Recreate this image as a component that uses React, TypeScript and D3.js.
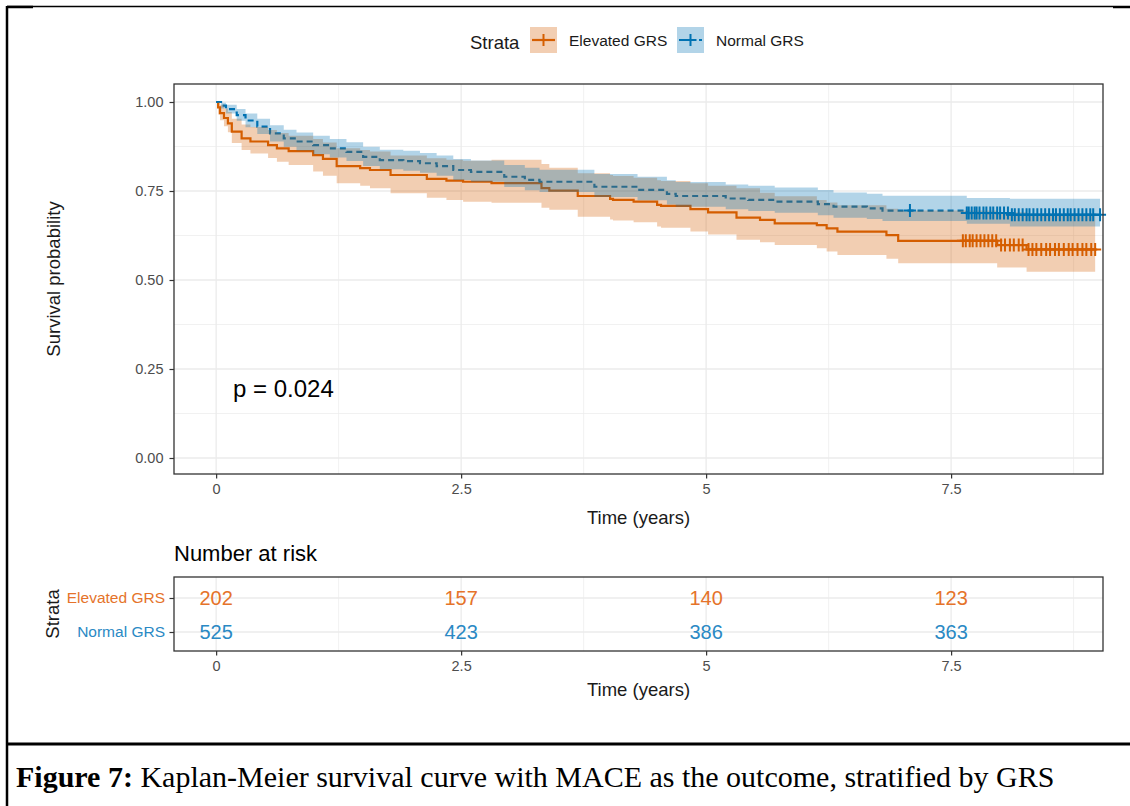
import { useEffect, useRef } from "react";
import * as d3 from "d3";

// Elevated GRS: KM steps + 95% CI
const elevTime = [0, 0.02, 0.04, 0.08, 0.12, 0.16, 0.26, 0.35, 0.53, 0.62, 0.74, 0.99, 1.09, 1.23, 1.47, 1.57, 1.78, 2.15, 2.35, 2.52, 2.81, 3.32, 3.4, 3.69, 4.02, 4.05, 4.26, 4.5, 4.54, 4.84, 5.02, 5.31, 5.55, 5.7, 6.13, 6.23, 6.34, 6.84, 6.96, 7.97, 8.27];
const elevSurv = [1, 0.985, 0.969, 0.955, 0.94, 0.917, 0.898, 0.889, 0.879, 0.87, 0.862, 0.851, 0.84, 0.82, 0.814, 0.809, 0.795, 0.784, 0.779, 0.776, 0.772, 0.758, 0.751, 0.736, 0.728, 0.725, 0.72, 0.711, 0.708, 0.699, 0.69, 0.675, 0.669, 0.659, 0.654, 0.645, 0.636, 0.626, 0.61, 0.598, 0.586];
const elevLower = [1, 0.965, 0.949, 0.932, 0.915, 0.885, 0.865, 0.855, 0.843, 0.832, 0.823, 0.805, 0.793, 0.772, 0.765, 0.758, 0.744, 0.731, 0.725, 0.72, 0.717, 0.703, 0.697, 0.678, 0.67, 0.667, 0.662, 0.65, 0.647, 0.636, 0.628, 0.613, 0.606, 0.598, 0.589, 0.58, 0.57, 0.56, 0.547, 0.535, 0.523];
const elevUpper = [1, 1, 0.992, 0.982, 0.972, 0.953, 0.937, 0.93, 0.921, 0.913, 0.905, 0.896, 0.886, 0.87, 0.865, 0.861, 0.85, 0.842, 0.838, 0.835, 0.838, 0.826, 0.815, 0.8, 0.795, 0.792, 0.787, 0.78, 0.778, 0.772, 0.765, 0.758, 0.745, 0.735, 0.725, 0.718, 0.71, 0.7, 0.695, 0.69, 0.686];
const elevEnd = 8.97;
const elevCensor = [7.62, 7.65, 7.69, 7.72, 7.76, 7.8, 7.84, 7.88, 7.92, 7.96, 8.01, 8.05, 8.1, 8.14, 8.19, 8.23, 8.29, 8.33, 8.37, 8.42, 8.47, 8.51, 8.56, 8.6, 8.65, 8.7, 8.74, 8.79, 8.84, 8.88, 8.93, 8.97];

// Normal GRS
const normTime = [0, 0.05, 0.1, 0.21, 0.3, 0.42, 0.55, 0.69, 0.82, 0.99, 1.16, 1.33, 1.5, 1.67, 1.91, 2.08, 2.25, 2.42, 2.6, 2.94, 3.15, 3.3, 3.86, 4.3, 4.6, 4.69, 5.2, 5.43, 5.7, 6.14, 6.3, 6.64, 6.8, 7.66, 8.1];
const normSurv = [1, 0.99, 0.98, 0.963, 0.948, 0.931, 0.912, 0.898, 0.889, 0.879, 0.87, 0.86, 0.846, 0.837, 0.834, 0.828, 0.82, 0.809, 0.804, 0.79, 0.781, 0.776, 0.762, 0.753, 0.742, 0.736, 0.729, 0.725, 0.72, 0.713, 0.706, 0.701, 0.695, 0.688, 0.683];
const normLower = [1, 0.982, 0.968, 0.947, 0.929, 0.91, 0.889, 0.874, 0.864, 0.853, 0.844, 0.834, 0.82, 0.811, 0.807, 0.801, 0.793, 0.781, 0.776, 0.761, 0.752, 0.747, 0.733, 0.724, 0.712, 0.706, 0.699, 0.694, 0.689, 0.682, 0.675, 0.671, 0.666, 0.658, 0.65];
const normUpper = [1, 0.998, 0.992, 0.98, 0.968, 0.953, 0.935, 0.922, 0.914, 0.905, 0.896, 0.887, 0.874, 0.866, 0.863, 0.857, 0.85, 0.84, 0.836, 0.823, 0.815, 0.81, 0.798, 0.79, 0.78, 0.775, 0.768, 0.765, 0.76, 0.753, 0.746, 0.742, 0.737, 0.73, 0.728];
const normEnd = 9.02;
const normCensor = [7.08, 7.66, 7.68, 7.71, 7.74, 7.76, 7.79, 7.83, 7.86, 7.9, 7.93, 7.97, 8.0, 8.04, 8.08, 8.12, 8.15, 8.19, 8.23, 8.27, 8.3, 8.34, 8.38, 8.42, 8.46, 8.5, 8.54, 8.57, 8.61, 8.65, 8.69, 8.72, 8.76, 8.8, 8.84, 8.88, 8.92, 8.95, 9.02];

// risk table
const riskTimes = [0, 2.5, 5, 7.5];
const elevRisk = [202, 157, 140, 123];
const normRisk = [525, 423, 386, 363];
const strataNames = ["Elevated GRS", "Normal GRS"];

const xTicks = [0, 2.5, 5, 7.5];
const xMinor = [1.25, 3.75, 6.25, 8.75];
const yTicks = [0, 0.25, 0.5, 0.75, 1];
const yMinor = [0.125, 0.375, 0.625, 0.875];

const ORANGE = "#D55E00";
const BLUE = "#0072B2";
const ORANGE_TXT = "#E5732A";
const BLUE_TXT = "#2A89C4";
const FONT = "Liberation Sans, Arial, sans-serif";

const App = () => {
  const svgRef = useRef(null);

  useEffect(() => {
    const svg = d3.select(svgRef.current);
    svg.selectAll("*").remove();

    const left = 174;
    const right = 1103;
    const x = d3.scaleLinear().domain([-0.43, 9.05]).range([left, right]);
    const y = d3.scaleLinear().domain([0, 1]).range([458, 102]);
    const pTop = 84;
    const pBot = 474;

    // frame of the document page
    svg.append("line").attr("x1", 7).attr("x2", 1113).attr("y1", 6.5).attr("y2", 6.5).attr("stroke", "#000").attr("stroke-width", 1.5);
    svg.append("line").attr("x1", 7).attr("x2", 33).attr("y1", 7).attr("y2", 7).attr("stroke", "#000").attr("stroke-width", 2.5);
    svg.append("line").attr("x1", 1113).attr("x2", 1130).attr("y1", 7).attr("y2", 7).attr("stroke", "#000").attr("stroke-width", 2.5);
    svg.append("line").attr("x1", 7).attr("x2", 7).attr("y1", 6).attr("y2", 806).attr("stroke", "#000").attr("stroke-width", 2.5);
    svg.append("line").attr("x1", 7).attr("x2", 1130).attr("y1", 744).attr("y2", 744).attr("stroke", "#000").attr("stroke-width", 3);

    // legend
    const lg = svg.append("g").attr("font-family", FONT);
    lg.append("text").attr("x", 470).attr("y", 49).attr("font-size", 18.5).attr("fill", "#1a1a1a").text("Strata");
    const keys = [
      { x0: 530, col: ORANGE, dash: null, label: strataNames[0] },
      { x0: 677, col: BLUE, dash: "6,4", label: strataNames[1] },
    ];
    keys.forEach((k) => {
      lg.append("rect").attr("x", k.x0).attr("y", 27).attr("width", 27).attr("height", 26).attr("fill", k.col).attr("fill-opacity", 0.3);
      lg.append("line").attr("x1", k.x0 + 2).attr("x2", k.x0 + 25).attr("y1", 40).attr("y2", 40)
        .attr("stroke", k.col).attr("stroke-width", 2.2).attr("stroke-dasharray", k.dash);
      lg.append("path").attr("d", `M${k.x0 + 7.5},40H${k.x0 + 19.5}M${k.x0 + 13.5},34V46`).attr("stroke", k.col).attr("stroke-width", 2);
      lg.append("text").attr("x", k.x0 + 39).attr("y", 46).attr("font-size", 15.5).attr("fill", "#1a1a1a").text(k.label);
    });

    // main panel grid
    const g = svg.append("g");
    xMinor.forEach((v) => g.append("line").attr("x1", x(v)).attr("x2", x(v)).attr("y1", pTop).attr("y2", pBot).attr("stroke", "#EBEBEB").attr("stroke-width", 0.7));
    yMinor.forEach((v) => g.append("line").attr("x1", left).attr("x2", right).attr("y1", y(v)).attr("y2", y(v)).attr("stroke", "#EBEBEB").attr("stroke-width", 0.7));
    xTicks.forEach((v) => g.append("line").attr("x1", x(v)).attr("x2", x(v)).attr("y1", pTop).attr("y2", pBot).attr("stroke", "#EBEBEB").attr("stroke-width", 1.3));
    yTicks.forEach((v) => g.append("line").attr("x1", left).attr("x2", right).attr("y1", y(v)).attr("y2", y(v)).attr("stroke", "#EBEBEB").attr("stroke-width", 1.3));

    const series = [
      { time: elevTime, surv: elevSurv, lo: elevLower, hi: elevUpper, end: elevEnd, cens: elevCensor, col: ORANGE, dash: null },
      { time: normTime, surv: normSurv, lo: normLower, hi: normUpper, end: normEnd, cens: normCensor, col: BLUE, dash: "6,4" },
    ];
    const rows = (s) => {
      const r = s.time.map((t, i) => ({ t, s: s.surv[i], lo: s.lo[i], hi: s.hi[i] }));
      const last = r[r.length - 1];
      r.push({ ...last, t: s.end });
      return r;
    };
    const line = d3.line().x((d) => x(d.t)).y((d) => y(d.s)).curve(d3.curveStepAfter);
    const area = d3.area().x((d) => x(d.t)).y0((d) => y(d.lo)).y1((d) => y(d.hi)).curve(d3.curveStepAfter);

    // lines first, ribbons on top (as ggsurvplot layers them)
    series.forEach((s) => {
      g.append("path").attr("d", line(rows(s))).attr("fill", "none").attr("stroke", s.col).attr("stroke-width", 2.2).attr("stroke-dasharray", s.dash);
    });
    series.forEach((s) => {
      g.append("path").attr("d", area(rows(s))).attr("fill", s.col).attr("fill-opacity", 0.3);
    });
    series.forEach((s) => {
      const stepY = (t) => {
        let v = s.surv[0];
        s.time.forEach((tt, i) => { if (tt <= t) v = s.surv[i]; });
        return v;
      };
      g.selectAll(null).data(s.cens).enter().append("path")
        .attr("d", (t) => `M${x(t) - 6},${y(stepY(t))}h12M${x(t)},${y(stepY(t)) - 6.5}v13`)
        .attr("stroke", s.col).attr("stroke-width", 2);
    });

    g.append("rect").attr("x", left).attr("y", pTop).attr("width", right - left).attr("height", pBot - pTop)
      .attr("fill", "none").attr("stroke", "#333333").attr("stroke-width", 1.3);

    // axes
    const yAx = svg.append("g").attr("transform", `translate(${left},0)`)
      .call(d3.axisLeft(y).tickValues(yTicks).tickFormat(d3.format(".2f")).tickSize(4.5).tickPadding(6));
    const xAx = svg.append("g").attr("transform", `translate(0,${pBot})`)
      .call(d3.axisBottom(x).tickValues(xTicks).tickFormat((d) => String(d)).tickSize(4.5).tickPadding(5));
    [yAx, xAx].forEach((a) => {
      a.select(".domain").remove();
      a.selectAll("line").attr("stroke", "#333333").attr("stroke-width", 1.2);
      a.selectAll("text").attr("font-family", FONT).attr("font-size", 14.5).attr("fill", "#4D4D4D");
    });

    svg.append("text").attr("x", (left + right) / 2).attr("y", 524).attr("text-anchor", "middle")
      .attr("font-family", FONT).attr("font-size", 18.5).attr("fill", "#1a1a1a").text("Time (years)");
    svg.append("text").attr("transform", `translate(60,${(pTop + pBot) / 2}) rotate(-90)`).attr("text-anchor", "middle")
      .attr("font-family", FONT).attr("font-size", 18.5).attr("fill", "#1a1a1a").text("Survival probability");
    svg.append("text").attr("x", 233).attr("y", 397).attr("font-family", FONT).attr("font-size", 24).attr("fill", "#000").text("p = 0.024");

    // risk table
    const rTop = 577;
    const rBot = 651;
    const ry = d3.scalePoint().domain(strataNames).range([598, 632]);
    svg.append("text").attr("x", left).attr("y", 561).attr("font-family", FONT).attr("font-size", 22).attr("fill", "#000").text("Number at risk");
    const rg = svg.append("g");
    xMinor.forEach((v) => rg.append("line").attr("x1", x(v)).attr("x2", x(v)).attr("y1", rTop).attr("y2", rBot).attr("stroke", "#EBEBEB").attr("stroke-width", 0.7));
    xTicks.forEach((v) => rg.append("line").attr("x1", x(v)).attr("x2", x(v)).attr("y1", rTop).attr("y2", rBot).attr("stroke", "#EBEBEB").attr("stroke-width", 1.3));
    strataNames.forEach((n) => rg.append("line").attr("x1", left).attr("x2", right).attr("y1", ry(n)).attr("y2", ry(n)).attr("stroke", "#EBEBEB").attr("stroke-width", 1.3));
    const riskRows = [
      { name: strataNames[0], vals: elevRisk, col: ORANGE_TXT },
      { name: strataNames[1], vals: normRisk, col: BLUE_TXT },
    ];
    riskRows.forEach((r) => {
      rg.selectAll(null).data(riskTimes).enter().append("text")
        .attr("x", (t) => x(t)).attr("y", ry(r.name) + 7).attr("text-anchor", "middle")
        .attr("font-family", FONT).attr("font-size", 20).attr("fill", r.col)
        .text((t, i) => r.vals[i]);
    });
    rg.append("rect").attr("x", left).attr("y", rTop).attr("width", right - left).attr("height", rBot - rTop)
      .attr("fill", "none").attr("stroke", "#333333").attr("stroke-width", 1.3);

    const ryAx = svg.append("g").attr("transform", `translate(${left},0)`)
      .call(d3.axisLeft(ry).tickSize(4.5).tickPadding(4.5));
    ryAx.select(".domain").remove();
    ryAx.selectAll("line").attr("stroke", "#333333").attr("stroke-width", 1.2);
    ryAx.selectAll("text").attr("font-family", FONT).attr("font-size", 15.5)
      .attr("fill", (d) => (d === strataNames[0] ? ORANGE_TXT : BLUE_TXT));
    const rxAx = svg.append("g").attr("transform", `translate(0,${rBot})`)
      .call(d3.axisBottom(x).tickValues(xTicks).tickFormat((d) => String(d)).tickSize(4.5).tickPadding(5));
    rxAx.select(".domain").remove();
    rxAx.selectAll("line").attr("stroke", "#333333").attr("stroke-width", 1.2);
    rxAx.selectAll("text").attr("font-family", FONT).attr("font-size", 14.5).attr("fill", "#4D4D4D");

    svg.append("text").attr("x", (left + right) / 2).attr("y", 696).attr("text-anchor", "middle")
      .attr("font-family", FONT).attr("font-size", 18.5).attr("fill", "#1a1a1a").text("Time (years)");
    svg.append("text").attr("transform", `translate(59,${(rTop + rBot) / 2}) rotate(-90)`).attr("text-anchor", "middle")
      .attr("font-family", FONT).attr("font-size", 18.5).attr("fill", "#1a1a1a").text("Strata");

    // caption
    const cap = svg.append("text").attr("x", 16).attr("y", 787).attr("font-family", "Liberation Serif, Times New Roman, serif")
      .attr("font-size", 30).attr("fill", "#000");
    cap.append("tspan").attr("font-weight", "bold").text("Figure 7:");
    cap.append("tspan").text(" Kaplan-Meier survival curve with MACE as the outcome, stratified by GRS");
  }, []);

  return (
    <svg ref={svgRef} width={1130} height={806} style={{ position: "absolute", left: 0, top: 0, background: "#fff" }} />
  );
};

export default App;
